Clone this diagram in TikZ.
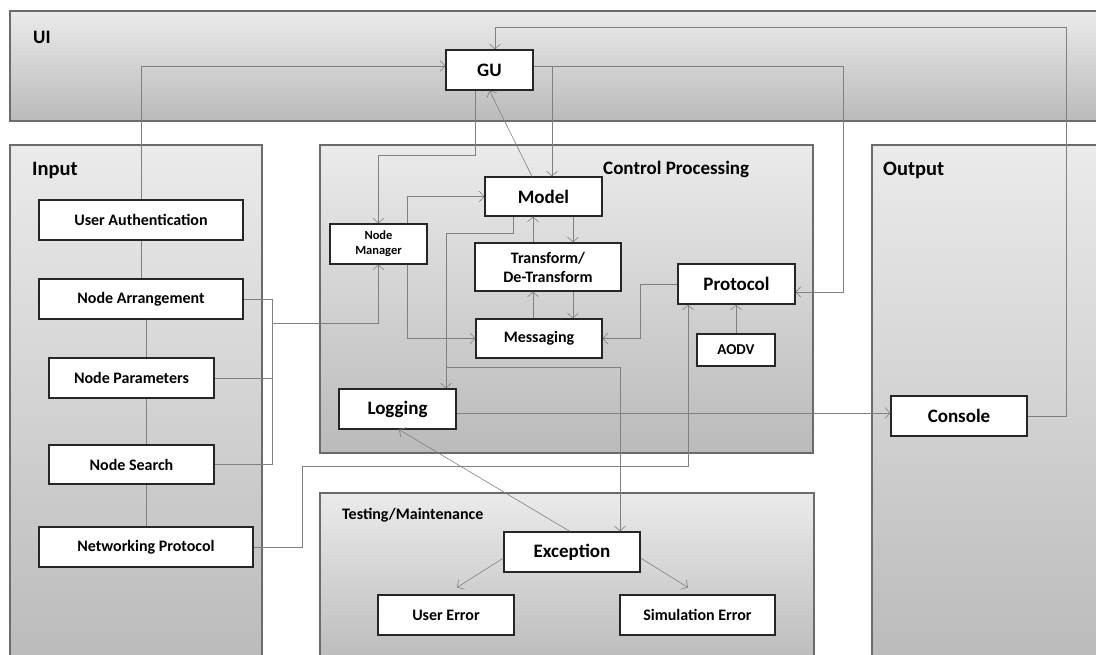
\documentclass[tikz,border=0pt]{standalone}
\usepackage{fontspec}
\setmainfont{Carlito}
\usetikzlibrary{arrows.meta,shadows}
\newcommand\fsBig{\fontsize{19}{21}\selectfont}
\newcommand\fsPan{\fontsize{20.5}{23}\selectfont}
\newcommand\fsMid{\fontsize{16}{19}\selectfont}
\newcommand\fsSm{\fontsize{12.5}{15}\selectfont}
\begin{document}
\begin{tikzpicture}[x=1pt,y=-1pt,
  panel/.style={draw=black!58,line width=1.3pt,top color=black!8,bottom color=black!27,
    drop shadow={shadow xshift=1.2pt,shadow yshift=-1.2pt,opacity=0.3,fill=black}},
  box/.style={draw=black!85,line width=1.1pt,fill=white,inner sep=0pt,align=center,
    font=\bfseries\fsMid,
    drop shadow={shadow xshift=1.2pt,shadow yshift=-1.2pt,opacity=0.3,fill=black}},
  plabel/.style={anchor=west,inner sep=0pt,font=\bfseries\fsPan},
  conn/.style={draw=black!50,line width=0.6pt},
  arr/.style={conn,-{Straight Barb[length=5pt,width=11pt]}}]
\useasboundingbox (0,0) rectangle (1096,655);
\clip (0,0) rectangle (1096,655);
% panels
\path[panel] (10,11) rectangle (1115,121);
\path[panel] (10,145) rectangle (262,668);
\path[panel] (320,145) rectangle (813,453);
\path[panel] (320,493) rectangle (814,668);
\path[panel] (872,145) rectangle (1115,668);
\node[plabel,font=\bfseries\fsBig] (lUI) at (33,37) {UI};
\node[plabel] (lIn) at (32,170) {Input};
\node[plabel,font=\bfseries\fsBig] (lCP) at (603,169) {Control Processing};
\node[plabel] (lOut) at (883,170) {Output};
\node[plabel,font=\bfseries\fsMid] (lTM) at (342,515) {Testing/Maintenance};
% boxes
\node[box,font=\bfseries\fsBig,minimum width=87,minimum height=40] (GU) at (489.5,70) {GU};
\node[box,minimum width=204,minimum height=40] (UA) at (141,220) {User Authentication};
\node[box,minimum width=204,minimum height=40] (NA) at (141,299) {Node Arrangement};
\node[box,minimum width=165,minimum height=40] (NP) at (131.5,378) {Node Parameters};
\node[box,minimum width=165,minimum height=39] (NS) at (131.5,464.5) {Node Search};
\node[box,minimum width=214,minimum height=40] (NetP) at (146,547) {Networking Protocol};
\node[box,font=\bfseries\fsBig,minimum width=117,minimum height=39] (Model) at (543.5,196.5) {Model};
\node[box,font=\bfseries\fsSm,minimum width=97,minimum height=40] (NM) at (378.5,244) {Node\\Manager};
\node[box,minimum width=146,minimum height=48] (TDT) at (548,267) {Transform/\\De-Transform};
\node[box,font=\bfseries\fsBig,minimum width=117,minimum height=40] (Prot) at (736.5,284) {Protocol};
\node[box,minimum width=126,minimum height=39] (Msg) at (539,338.5) {Messaging};
\node[box,font=\bfseries\fontsize{15}{17}\selectfont,minimum width=78,minimum height=32] (AODV) at (736,350) {AODV};
\node[box,font=\bfseries\fsBig,minimum width=117,minimum height=40] (Log) at (397.5,409) {Logging};
\node[box,font=\bfseries\fsBig,minimum width=136,minimum height=40] (Exc) at (572,552) {Exception};
\node[box,minimum width=136,minimum height=40] (UE) at (446,615) {User Error};
\node[box,minimum width=155,minimum height=40] (SE) at (697.5,615) {Simulation Error};
\node[box,font=\bfseries\fsBig,minimum width=136,minimum height=40] (Con) at (959,416) {Console};
% connectors
\draw[arr] (UA.north) |- ([yshift=4pt]GU.west);
\draw[arr] (Con.east) -| (1066,27) -| ([xshift=5.5pt]GU.north);
\draw[arr] ([yshift=4pt]GU.east) -| (843,292) -- ([yshift=-8pt]Prot.east);
\draw[arr] ([yshift=4pt]GU.east) -| ([xshift=8.5pt]Model.north);
\draw[arr] ([xshift=-11.5pt]Model.north) -- (GU.south);
\draw[arr] ([xshift=-14.5pt]GU.south) |- (378.5,155) -- (NM.north);
\draw[arr] ([xshift=28.5pt]NM.north) |- (Model.west);
\draw[arr] ([xshift=28.5pt]NM.south) |- (Msg.west);
\draw[conn] (UA.south) -- (NA.north);
\draw[conn] (NA.south -| NetP.center) -- (NP.north -| NetP.center);
\draw[conn] (NP.south -| NetP.center) -- (NS.north -| NetP.center);
\draw[conn] (NS.south -| NetP.center) -- (NetP.north);
\draw[conn] (NA.east) -- (272,299) -- (272,464.5) -- (NS.east);
\draw[conn] (NP.east) -- (272,378);
\draw[arr] (272,323) -| (NM.south);
\draw[arr] ([xshift=-30.5pt]Model.south) |- (446,233) -- ([xshift=48.5pt]Log.north);
\draw[arr] (446,367) -| ([xshift=48pt]Exc.north);
\draw[arr] ([xshift=29.5pt]Model.south) -- ([xshift=25pt]TDT.north);
\draw[arr] ([xshift=-15pt]TDT.north) -- ([xshift=-10.5pt]Model.south);
\draw[arr] ([xshift=-6pt]Msg.north) -- ([xshift=-15pt]TDT.south);
\draw[arr] ([xshift=25pt]TDT.south) -- ([xshift=34pt]Msg.north);
\draw[arr] (Prot.west) -- (640,284) |- (Msg.east);
\draw[arr] (AODV.north) -- (AODV.north |- Prot.south);
\draw[arr] ([yshift=-4pt]Log.east) -- ([yshift=3pt]Con.west);
\draw[arr] ([xshift=-2pt]Exc.north) -- ([xshift=1.5pt]Log.south);
\draw[arr] ([yshift=-6pt]Exc.west) -- ([xshift=11pt,yshift=7pt]UE.north);
\draw[arr] ([yshift=-6pt]Exc.east) -- ([xshift=-9.5pt,yshift=7pt]SE.north);
\draw[arr] (NetP.east) -- (302,547) |- (688,466) -- ([xshift=-48.5pt]Prot.south);
\end{tikzpicture}
\end{document}
